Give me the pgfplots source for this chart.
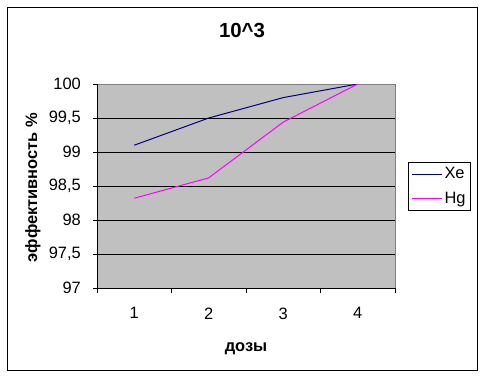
\documentclass[border=0pt]{standalone}
\usepackage{pgfplots}
\pgfplotsset{compat=1.18}
\usepackage{fontspec}
\setmainfont{Liberation Sans}
\definecolor{bgray}{HTML}{C0C0C0}
\definecolor{dgray}{HTML}{808080}
\definecolor{navyc}{HTML}{000080}
\definecolor{magc}{HTML}{FF00FF}
\begin{document}
\fontsize{16.5}{19}\selectfont
\begin{tikzpicture}[x=1bp,y=1bp]
\path (0,0) rectangle (486,378);
\draw[line width=1bp] (7.5,8) rectangle (477.5,370.5);
\begin{axis}[
  at={(97bp,90bp)}, anchor=south west,
  scale only axis, width=298bp, height=204bp,
  xmin=0.5, xmax=4.5, ymin=97, ymax=100,
  axis x line*=bottom, axis y line*=left,
  axis line style={line width=1bp, -, black},
  axis background/.style={fill=bgray, draw=dgray, line width=1bp},
  /pgf/number format/assume math mode=true,
  ticklabel style={font=\fontsize{16.5}{19}\selectfont},
  tick align=outside, major tick length=4bp, minor tick length=5bp,
  tick style={line width=1bp, black},
  xtick={1,2,3,4}, xticklabels={1,2,3,4},
  major x tick style={draw=none},
  minor xtick={0.5,1.5,2.5,3.5,4.5},
  ytick={97,97.5,98,98.5,99,99.5,100},
  yticklabels={97,{97,5},98,{98,5},99,{99,5},100},
  yticklabel style={xshift=-6.5bp},
  xticklabel style={yshift=-10bp},
  extra y ticks={97.5,98,98.5,99,99.5},
  extra y tick labels={},
  extra y tick style={grid=major, major grid style={black, line width=1bp}},
  every axis title shift=0pt,
  title={\bfseries\fontsize{20.5}{24}\selectfont 10\^{}3},
  title style={at={(axis description cs:0.4866,1.2647)}, anchor=center},
  xlabel={\bfseries дозы},
  xlabel style={at={(axis description cs:0.5,-0.297)}, anchor=center, font=\fontsize{16.5}{19}\selectfont},
  ylabel={\bfseries эффективность \%},
  ylabel style={at={(axis description cs:-0.2148,0.4926)}, anchor=center, font=\fontsize{16.5}{19}\selectfont},
  legend style={at={(axis description cs:1.0436,0.6176)}, anchor=north west,
    draw=black, line width=1bp, fill=white, inner xsep=3bp, inner ysep=3bp,
    font=\fontsize{16.5}{19}\selectfont, row sep=6.5bp,
    nodes={inner sep=2bp}},
  legend cell align=left,
  legend image code/.code={\draw[#1, line width=1bp] (0bp,0bp) -- (30bp,0bp);},
]
\addplot[navyc, line width=1bp] coordinates {(1,99.1) (2,99.5) (3,99.8) (4,100)};
\addlegendentry{Xe}
\addplot[magc, line width=1bp] coordinates {(1,98.32) (2,98.62) (3,99.44) (4,100)};
\addlegendentry{Hg}
\end{axis}
\end{tikzpicture}
\end{document}
